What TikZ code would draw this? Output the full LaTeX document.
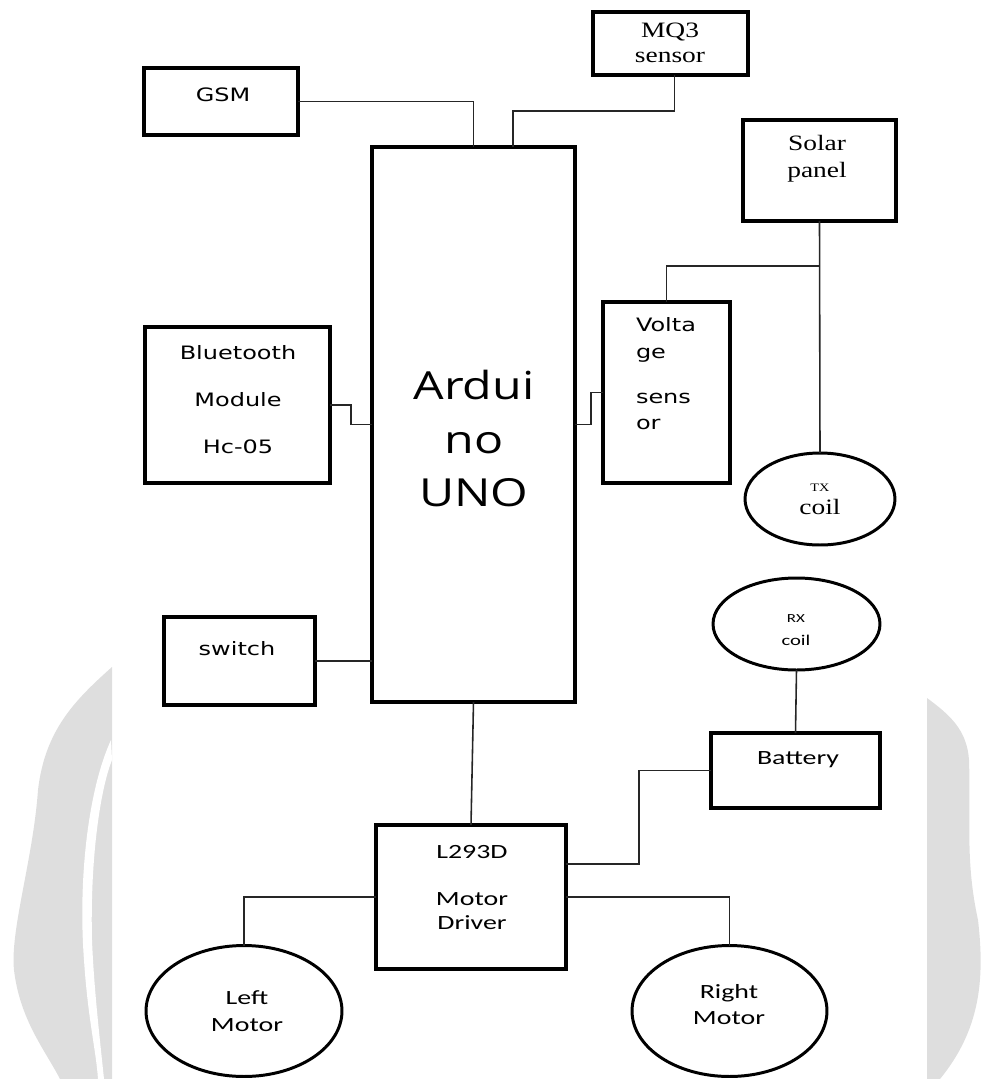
\documentclass[tikz,border=0pt]{standalone}
\usepackage{fontspec}
\usetikzlibrary{shapes.geometric,calc}
\newfontfamily\sansfnt[FakeStretch=1.3]{DejaVu Sans}
\newfontfamily\calfnt[FakeStretch=1.38]{Carlito}
\newfontfamily\serfnt[FakeStretch=1.25]{Liberation Serif}
\newfontfamily\bigfnt[FakeStretch=1.25]{Open Sans}

\newcommand{\sanssize}[1]{\sansfnt\fontsize{10.5}{#1}\selectfont}
\newcommand{\calsize}[1]{\calfnt\fontsize{11.5}{#1}\selectfont}
\newcommand{\sersize}[1]{\serfnt\fontsize{12.5}{#1}\selectfont}

\tikzset{
    block/.style={draw, line width=2.2pt},
    coil/.style={draw, ellipse, line width=1.7pt},
    wire/.style={line width=0.9pt, black!85},
    wmark/.style={fill=black!13},
    sanstxt/.style={font=\sanssize{#1}, align=center},
    caltxt/.style={font=\calsize{#1}, align=center},
    sertxt/.style={font=\sersize{#1}, align=center},
}

\begin{document}
\begin{tikzpicture}[
    x=0.02cm, y=-0.02cm,
    every node/.style={inner sep=0pt, outer sep=0pt},
]
\useasboundingbox (0,0) rectangle (982,1079);

% ---- watermark at the sides ----
\fill[wmark] (112,667) .. controls (75,700) and (45,730) .. (38,790)
    .. controls (33,860) and (10,930) .. (14,970)
    .. controls (20,1020) and (45,1050) .. (60,1079) -- (112,1079) -- cycle;
\fill[white] (111,740) .. controls (88,790) and (78,880) .. (84,960)
    .. controls (88,1020) and (96,1050) .. (98,1079) -- (104,1079)
    .. controls (100,1040) and (94,990) .. (92,940)
    .. controls (90,860) and (100,790) .. (112,760) -- cycle;
\fill[wmark] (927,698) .. controls (950,715) and (967,730) .. (969,760)
    .. controls (971,820) and (965,860) .. (978,920)
    .. controls (985,980) and (980,1030) .. (940,1079) -- (927,1079) -- cycle;

% ---- top row: GSM and MQ3 ----
\node[block, minimum width=3.08cm, minimum height=1.34cm] (gsm) at (221,101.5) {};
\node[sanstxt=13] (gsm-t) at (223,95) {GSM};
\node[block, minimum width=3.1cm, minimum height=1.26cm] (mq3) at (670.5,43.5) {};
\node[sertxt=14.2] (mq3-t) at (670,42.5) {MQ3\\sensor};

% ---- Arduino UNO ----
\node[block, minimum width=4.06cm, minimum height=11.1cm] (ard) at (473.5,424.5) {};
\node[font={\bigfnt\fontsize{22}{30.3}\selectfont}, align=center] (ard-t) at (474,438.5) {Ardui\\no\\UNO};

% ---- left column ----
\node[block, minimum width=3.7cm, minimum height=3.12cm] (bt) at (237.5,405) {};
\node[sanstxt=26.6] (bt-t) at (238,399.5) {Bluetooth\\Module\\Hc-05};
\node[block, minimum width=3.02cm, minimum height=1.76cm] (sw) at (239.5,661) {};
\node[sanstxt=13] (sw-t) at (237,649) {switch};

% ---- right column: sensor, solar panel, coils ----
\node[block, minimum width=2.54cm, minimum height=3.62cm] (volt) at (666.5,392.5) {};
\node[sanstxt=15.3, align=left, anchor=west] (volt-a) at (636,339.5) {Volta\\ge};
\node[sanstxt=15.3, align=left, anchor=west] (volt-b) at (636,411.5) {sens\\or};
\node[block, minimum width=3.06cm, minimum height=2.02cm] (solar) at (819.5,170.5) {};
\node[sertxt=15.3] (solar-t) at (817,158.5) {Solar\\panel};
\node[coil, minimum width=3cm, minimum height=1.84cm] (tx) at (820,499) {};
\node[font={\serfnt\fontsize{6.5}{7}\selectfont}] (tx-a) at (820,488) {TX};
\node[sertxt=14.5] (tx-b) at (820,507) {coil};
\node[coil, minimum width=3.34cm, minimum height=1.84cm] (rx) at (796.5,624) {};
\node[font={\calfnt\fontsize{7}{8}\selectfont}] (rx-a) at (796,619) {RX};
\node[font={\calfnt\fontsize{8.5}{10}\selectfont}] (rx-b) at (796,640) {coil};
\node[block, minimum width=3.38cm, minimum height=1.5cm] (bat) at (795.5,770.5) {};
\node[caltxt=15.3] (bat-t) at (798,760) {Battery};

% ---- motor driver and motors ----
\node[block, minimum width=3.8cm, minimum height=2.88cm] (drv) at (471,897) {};
\node[caltxt=15.3] (drv-a) at (472,852) {L293D};
\node[caltxt=13.6] (drv-b) at (472,911) {Motor\\Driver};
\node[coil, minimum width=3.92cm, minimum height=2.62cm] (lm) at (244,1011) {};
\node[caltxt=15.3] (lm-t) at (247,1011.5) {Left\\Motor};
\node[coil, minimum width=3.9cm, minimum height=2.62cm] (rm) at (729.5,1011) {};
\node[caltxt=15.3] (rm-t) at (729,1004.5) {Right\\Motor};

% ---- wires ----
\draw[wire] (gsm.east) -| (ard.north);
\draw[wire] ($(mq3.south)+(4,0)$) -- ++(0,36) -| ($(ard.north)+(39.5,0)$);
\draw[wire] (bt.east) -- ++(21,0) |- (ard.west);
\draw[wire] (sw.east) -- (sw.east -| ard.west);
\draw[wire] (ard.east) -- ++(16,0) |- (volt.west);
\coordinate (tap) at ($(solar.south)+(0,45)$);
\draw[wire] (solar.south) -- (tx.north);
\draw[wire] (volt.north) |- (tap);
\draw[wire] (ard.south) -- (drv.north);
\draw[wire] ($(drv.east)+(0,-33)$) -- ++(73,0) |- (bat.west);
\draw[wire] (rx.south) -- (bat.north);
\draw[wire] (drv.west) -| (lm.north);
\draw[wire] (drv.east) -| (rm.north);

\end{tikzpicture}
\end{document}
